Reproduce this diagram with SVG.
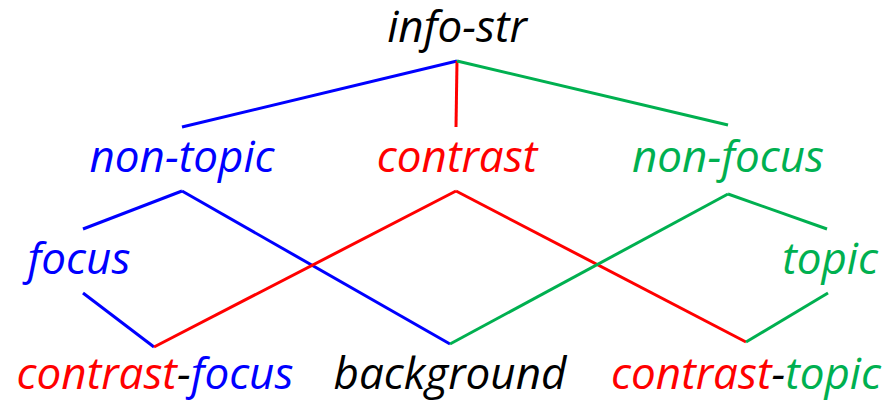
<svg xmlns="http://www.w3.org/2000/svg" width="887" height="405" viewBox="0 0 887 405">
<style>
text{font-family:"Open Sans","Noto Sans",sans-serif;font-style:italic;font-size:44px;text-anchor:middle}
.b{fill:#0000FF}.r{fill:#FF0000}.g{fill:#00B050}.k{fill:#000}
line{stroke-width:3;fill:none}
.lb{stroke:#0000FF}.lr{stroke:#FF0000}.lg{stroke:#00B050}
</style>
<rect width="887" height="405" fill="#fff"/>
<g id="connectors">
<line class="lb" x1="457" y1="61" x2="182" y2="127"/>
<line class="lr" x1="457" y1="61" x2="456" y2="127"/>
<line class="lg" x1="457" y1="61" x2="728" y2="125"/>
<line class="lb" x1="182" y1="191" x2="83" y2="229"/>
<line class="lb" x1="182" y1="191" x2="450" y2="344"/>
<line class="lb" x1="83" y1="293" x2="154" y2="347"/>
<line class="lr" x1="154" y1="347" x2="456" y2="191"/>
<line class="lr" x1="456" y1="191" x2="746" y2="342"/>
<line class="lg" x1="450" y1="344" x2="728" y2="194"/>
<line class="lg" x1="728" y1="194" x2="827" y2="229"/>
<line class="lg" x1="746" y1="342" x2="828" y2="293"/>
</g>
<g id="info-str"><text class="k" x="457" y="42">info-str</text></g>
<g id="non-topic"><text class="b" x="182" y="172">non-topic</text></g>
<g id="contrast"><text class="r" x="457" y="172">contrast</text></g>
<g id="non-focus"><text class="g" x="728" y="172">non-focus</text></g>
<g id="focus"><text class="b" x="79" y="274">focus</text></g>
<g id="topic"><text class="g" x="830" y="274">topic</text></g>
<g id="contrast-focus"><text x="155" y="389"><tspan class="r">contrast</tspan><tspan class="k">-</tspan><tspan class="b">focus</tspan></text></g>
<g id="background"><text class="k" x="450" y="389">background</text></g>
<g id="contrast-topic"><text x="746" y="389"><tspan class="r">contrast</tspan><tspan class="k">-</tspan><tspan class="g">topic</tspan></text></g>
</svg>
